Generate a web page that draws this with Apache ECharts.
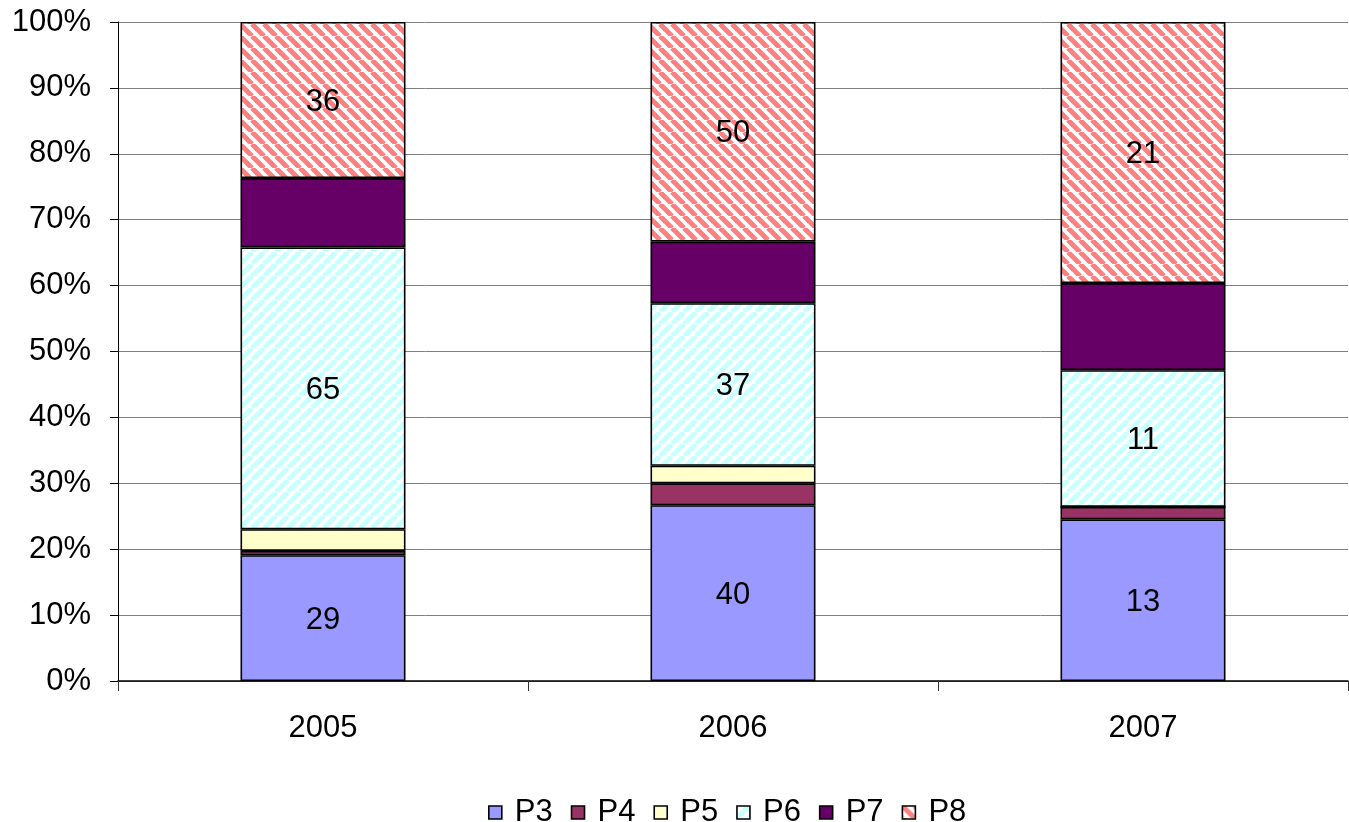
<!DOCTYPE html>
<html>
<head>
<meta charset="utf-8">
<script src="https://cdn.jsdelivr.net/npm/echarts@6/dist/echarts.min.js"></script>
<style>
html, body { margin: 0; padding: 0; background: #fff; }
#chart { width: 1349px; height: 822px; }
</style>
</head>
<body>
<div id="chart"></div>
<script>
var years = ['2005', '2006', '2007'];
var seriesNames = ['P3', 'P4', 'P5', 'P6', 'P7', 'P8'];
var p3 = [29, 40, 13];
var p4 = [1, 5, 1];
var p5 = [5, 4, 0];
var p6 = [65, 37, 11];
var p7 = [16, 14, 7];
var p8 = [36, 50, 21];
var yTicks = [0, 10, 20, 30, 40, 50, 60, 70, 80, 90, 100];

// which series carry a value label
var labelled = { P3: true, P6: true, P8: true };

function stripes(color, size, width, backslash) {
    var c = document.createElement('canvas');
    c.width = size;
    c.height = size;
    var ctx = c.getContext('2d');
    ctx.fillStyle = '#fff';
    ctx.fillRect(0, 0, size, size);
    ctx.strokeStyle = color;
    ctx.lineWidth = width;
    for (var k = -1; k <= 1; k++) {
        ctx.beginPath();
        if (backslash) {
            ctx.moveTo(k * size, 0);
            ctx.lineTo(k * size + size, size);
        } else {
            ctx.moveTo(k * size, size);
            ctx.lineTo(k * size + size, 0);
        }
        ctx.stroke();
    }
    return { image: c, repeat: 'repeat' };
}

var colors = [
    '#9999ff',
    '#993366',
    '#ffffcc',
    stripes('#c8ffff', 12, 5, false),
    '#660066',
    stripes('#ff8080', 12, 5, true)
];

var raw = [p3, p4, p5, p6, p7, p8];
var totals = years.map(function (y, i) {
    var s = 0;
    raw.forEach(function (arr) { s += arr[i]; });
    return s;
});

var series = seriesNames.map(function (name, si) {
    return {
        name: name,
        type: 'bar',
        stack: 'all',
        barWidth: 165,
        data: raw[si].map(function (v, i) {
            return { value: v / totals[i] * 100, raw: v };
        }),
        itemStyle: {
            color: colors[si],
            borderColor: '#000',
            borderWidth: 1.6
        },
        label: {
            show: !!labelled[name],
            position: 'inside',
            offset: [0, 2],
            color: '#000',
            fontSize: 31,
            fontFamily: 'Liberation Sans',
            formatter: function (p) { return p.data.raw; }
        }
    };
});

var myChart = echarts.init(document.getElementById('chart'));
var option = {
    animation: false,
    textStyle: { fontFamily: 'Liberation Sans' },
    grid: { left: 118, right: 1, top: 22, bottom: 141 },
    legend: {
        top: 792,
        left: 483,
        itemWidth: 13,
        itemHeight: 13,
        itemGap: 18,
        icon: 'rect',
        itemStyle: { borderColor: '#000', borderWidth: 1.6 },
        textStyle: {
            fontSize: 31,
            color: '#000',
            fontFamily: 'Liberation Sans',
            padding: [0, 0, 0, 8]
        },
        data: seriesNames
    },
    xAxis: {
        type: 'category',
        data: years,
        axisLine: { lineStyle: { color: '#000', width: 1.5 } },
        axisTick: { show: true, length: 10, lineStyle: { color: '#333' } },
        axisLabel: { fontSize: 31, color: '#000', margin: 32 }
    },
    yAxis: {
        type: 'value',
        min: yTicks[0],
        max: yTicks[yTicks.length - 1],
        interval: 10,
        axisLine: { show: true, lineStyle: { color: '#000', width: 1 } },
        axisTick: { show: true, length: 8, lineStyle: { color: '#000' } },
        axisLabel: { fontSize: 31, color: '#000', margin: 27, formatter: '{value}%' },
        splitLine: { lineStyle: { color: '#808080', width: 1 } }
    },
    series: series
};
myChart.setOption(option);
</script>
</body>
</html>
